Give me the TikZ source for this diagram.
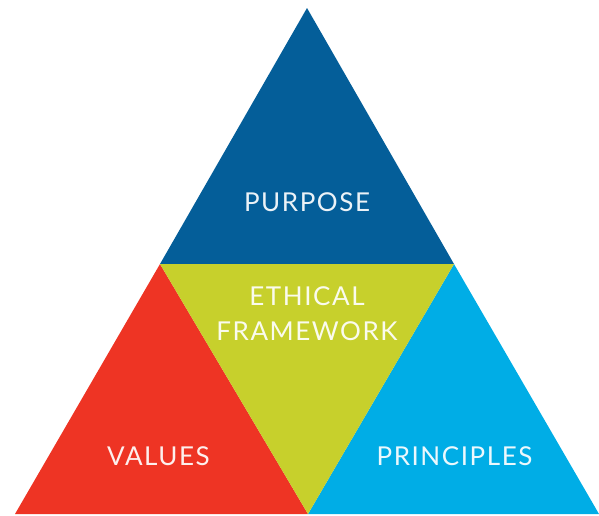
\documentclass[tikz,border=0pt]{standalone}
\usepackage{fontspec}
\setmainfont{Lato}[LetterSpace=6]
\usepackage{xcolor}
\usepackage{tikz}
\usetikzlibrary{calc}
\usetikzlibrary{positioning}
\definecolor{purposeblue}{HTML}{045E99}
\definecolor{ethicgreen}{HTML}{C7D02C}
\definecolor{valuesred}{HTML}{EE3424}
\definecolor{principlesblue}{HTML}{00ADE6}

\begin{document}
\begin{tikzpicture}[x=1pt, y=-1pt]

                \def\s{\fontsize{26}{35}\selectfont}

                % label style for the four parts
                \tikzset{part/.style={text=white, text opacity=.92,
                    align=center, inner sep=0pt, font=\s}}

                \useasboundingbox (0, 0) rectangle (599, 515);

                % corners of the big triangle and its mid points
                \coordinate (top) at (307, 8);
                \coordinate (left) at (15, 514);
                \coordinate (right) at (599, 514);
                \coordinate (midl) at (160, 264);
                \coordinate (midr) at (454, 264);
                \coordinate (midb) at (308, 514);

                \begin{scope}
                    \fill[purposeblue] (top) -- (midr) -- (midl) -- cycle;
                    \fill[valuesred] (midl) -- (midb) -- (left) -- cycle;
                    \fill[principlesblue] (midr) -- (right) -- (midb) -- cycle;
                    \fill[ethicgreen] (midl) -- (midr) -- (midb) -- cycle;
                \end{scope}

                \begin{scope}
                    \node[part] (purpose) at (307, 202) {PURPOSE};
                    \node[part] (ethics) at (307, 313.5)
                    {ETHICAL\\FRAMEWORK};
                    \node[part] (values) at (158.5, 456) {VALUES};
                    \node[part] (principles) at (454.5, 456) {PRINCIPLES};
                \end{scope}

                \end{tikzpicture}
\end{document}
